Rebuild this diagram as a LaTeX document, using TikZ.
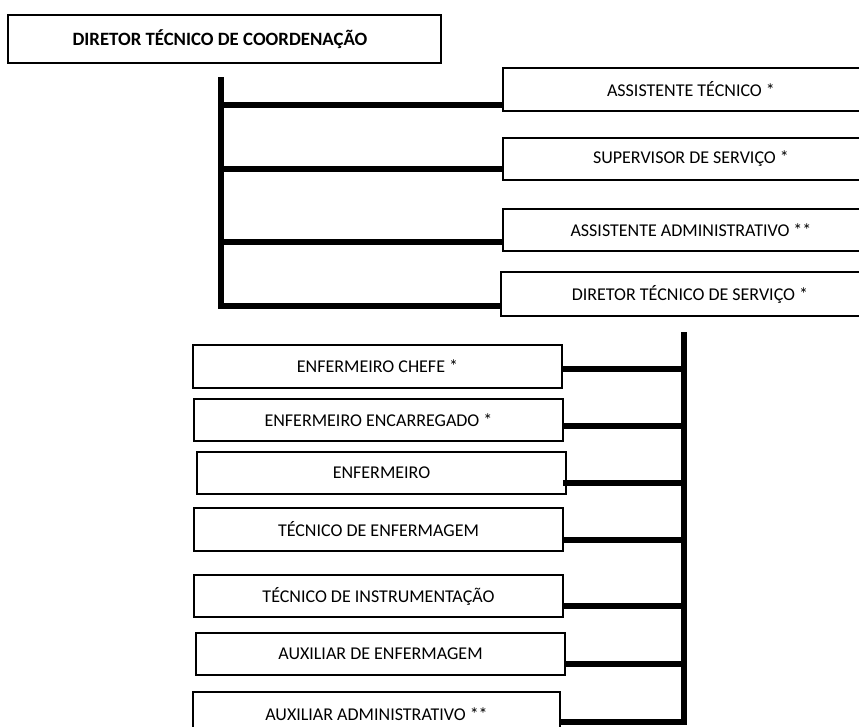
\documentclass[tikz,border=0pt]{standalone}
\usepackage{fontspec}
\setmainfont{Carlito}
\begin{document}
\begin{tikzpicture}[x=1pt,y=-1pt,
  box/.style={draw, line width=1.5pt, inner sep=0pt, fill=white,
    font=\fontsize{18}{20}\selectfont, align=center},
  upbox/.style={box, minimum width=376pt, minimum height=43pt},
  lowbox/.style={box, minimum width=369pt, minimum height=42pt},
  bar/.style={line width=6pt, line join=miter, line cap=butt}]
\useasboundingbox (0,0) rectangle (859,726);
\clip (0,0) rectangle (859,726);

% top box
\node[box, minimum width=433pt, minimum height=48pt, font=\fontsize{18.8}{20}\selectfont] (top) at (224.5,39)
  {\hspace*{-9pt}\textbf{DIRETOR TÉCNICO DE COORDENAÇÃO}};

% upper right boxes
\node[upbox] (at1) at (691,89.5) {ASSISTENTE TÉCNICO *};
\node[upbox, minimum height=42pt] (sup) at (691,159) {SUPERVISOR DE SERVIÇO *};
\node[upbox, minimum height=42pt] (adm) at (691,230) {ASSISTENTE ADMINISTRATIVO **};
\node[upbox, minimum width=378pt, minimum height=44pt] (dts) at (690,294) {DIRETOR TÉCNICO DE SERVIÇO *};

% left bar
\coordinate (lt) at (220.5,77);
\coordinate (l1) at (220.5,105);
\coordinate (l2) at (220.5,169);
\coordinate (l3) at (220.5,242);
\coordinate (lb) at (220.5,306);
\draw[bar] (lt) -- (lb) -- (lb -| dts.west);
\draw[bar] (l1) -- (l1 -| at1.west);
\draw[bar] (l2) -- (l2 -| sup.west);
\draw[bar] (l3) -- (l3 -| adm.west);

% lower boxes
\node[lowbox, minimum height=43pt] (c1) at (377.5,366.5) {ENFERMEIRO CHEFE *};
\node[lowbox] (c2) at (378.5,420) {ENFERMEIRO ENCARREGADO *};
\node[lowbox] (c3) at (381.5,473) {ENFERMEIRO};
\node[lowbox, minimum height=43pt] (c4) at (378.5,529.5) {TÉCNICO DE ENFERMAGEM};
\node[lowbox] (c5) at (378.5,596) {TÉCNICO DE INSTRUMENTAÇÃO};
\node[lowbox] (c6) at (380.5,654) {AUXILIAR DE ENFERMAGEM};
\node[lowbox, minimum width=367pt, minimum height=44pt] (c7) at (376.5,714) {AUXILIAR ADMINISTRATIVO **};

% right bar
\coordinate (rt) at (683.5,332);
\coordinate (r1) at (683.5,369);
\coordinate (r2) at (683.5,426);
\coordinate (r3) at (683.5,483);
\coordinate (r4) at (683.5,540);
\coordinate (r5) at (683.5,606);
\coordinate (r6) at (683.5,664);
\coordinate (rb) at (683.5,722);
\draw[bar] (rt) -- (rb) -- (rb -| c7.east);
\draw[bar] (r1) -- (r1 -| c1.east);
\draw[bar] (r2) -- (r2 -| c2.east);
\draw[bar] (r3) -- ([xshift=-4pt]r3 -| c3.east);
\draw[bar] (r4) -- (r4 -| c4.east);
\draw[bar] (r5) -- (r5 -| c5.east);
\draw[bar] (r6) -- (r6 -| c6.east);
\end{tikzpicture}
\end{document}
